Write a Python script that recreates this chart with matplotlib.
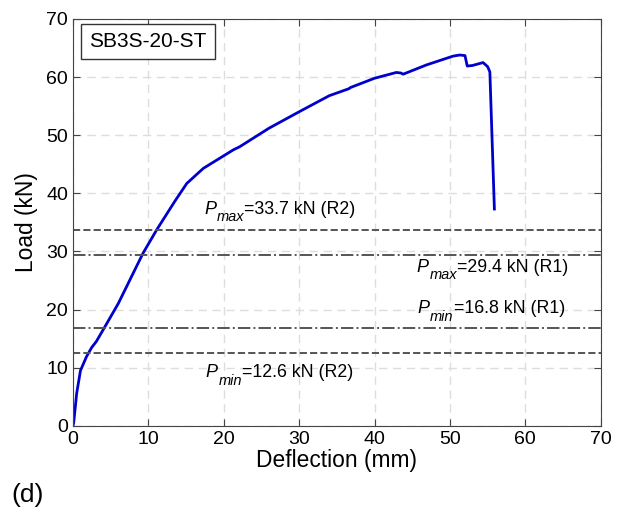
import matplotlib.pyplot as plt

plt.rcParams["font.family"] = ["Liberation Sans", "DejaVu Sans"]

# Load-deflection curve
deflection = [0.0, 0.1, 0.5, 1.0, 1.8, 2.5, 3.1, 4.0, 6.0, 9.3, 11.1, 13.5, 15.1,
              17.3, 21.3, 22.1, 26.0, 30.1, 34.0, 36.6, 36.8, 37.0, 40.0, 42.9,
              43.5, 43.8, 46.9, 50.4, 51.3, 52.0, 52.3, 53.0, 54.4, 55.0, 55.3, 55.9]
load = [0.0, 0.5, 5.6, 9.5, 11.9, 13.5, 14.5, 16.5, 21.0, 29.7, 33.7, 38.6, 41.7,
        44.3, 47.5, 48.0, 51.2, 54.1, 56.8, 58.0, 58.2, 58.3, 59.8, 60.8,
        60.7, 60.5, 62.1, 63.6, 63.8, 63.7, 61.9, 62.0, 62.5, 61.8, 60.9, 37.3]

# Design load levels
p_values = [33.7, 29.4, 16.8, 12.6]
p_styles = ["--", "-.", "-.", "--"]
p_subs = ["max", "max", "min", "min"]
p_texts = ["=33.7 kN (R2)", "=29.4 kN (R1)", "=16.8 kN (R1)", "=12.6 kN (R2)"]
label_x = [17.4, 45.6, 45.7, 17.6]
label_y = [36.5, 26.5, 19.4, 8.4]

fig = plt.figure(figsize=(6.18, 5.13), dpi=100)
ax = fig.add_axes([0.118, 0.170, 0.854, 0.793])

ax.plot(deflection, load, color="#0000cc", linewidth=2)

for p, ls in zip(p_values, p_styles):
    ax.axhline(p, color="#555555", linestyle=ls, linewidth=1.4)

# P with a MATLAB-style subscript, laid out piece by piece
fig.canvas.draw()
renderer = fig.canvas.get_renderer()
for sub, txt, x, y in zip(p_subs, p_texts, label_x, label_y):
    t1 = ax.annotate("P", (x, y), fontsize=13, style="italic", va="baseline")
    w1 = t1.get_window_extent(renderer).width * 72 / fig.dpi
    t2 = ax.annotate(sub, (x, y), xytext=(w1 + 0.5, -5.5), textcoords="offset points",
                     fontsize=10.5, style="italic", va="baseline")
    w2 = t2.get_window_extent(renderer).width * 72 / fig.dpi
    ax.annotate(txt, (x, y), xytext=(w1 + w2 + 0.5, 0), textcoords="offset points",
                fontsize=12.8, va="baseline")

ax.text(0.031, 0.967, "SB3S-20-ST", transform=ax.transAxes, fontsize=15,
        va="top", ha="left",
        bbox=dict(boxstyle="square,pad=0.38", facecolor="white", edgecolor="#333333"))

ax.set_xlim(0, 70)
ax.set_ylim(0, 70)
ax.set_xticks(range(0, 71, 10))
ax.set_yticks(range(0, 71, 10))
ax.tick_params(direction="in", top=True, right=True, labelsize=14, length=5, color="#444444")
ax.grid(True, linestyle=(0, (6, 4)), color="#dddddd", linewidth=1)
ax.set_axisbelow(True)
for s in ax.spines.values():
    s.set_color("#444444")

ax.set_xlabel("Deflection (mm)", fontsize=16.4, labelpad=1)
ax.set_ylabel("Load (kN)", fontsize=16.4, labelpad=6)

fig.text(0.018, 0.012, "(d)", fontsize=19, ha="left", va="bottom")

plt.savefig("out.png", dpi=100)
